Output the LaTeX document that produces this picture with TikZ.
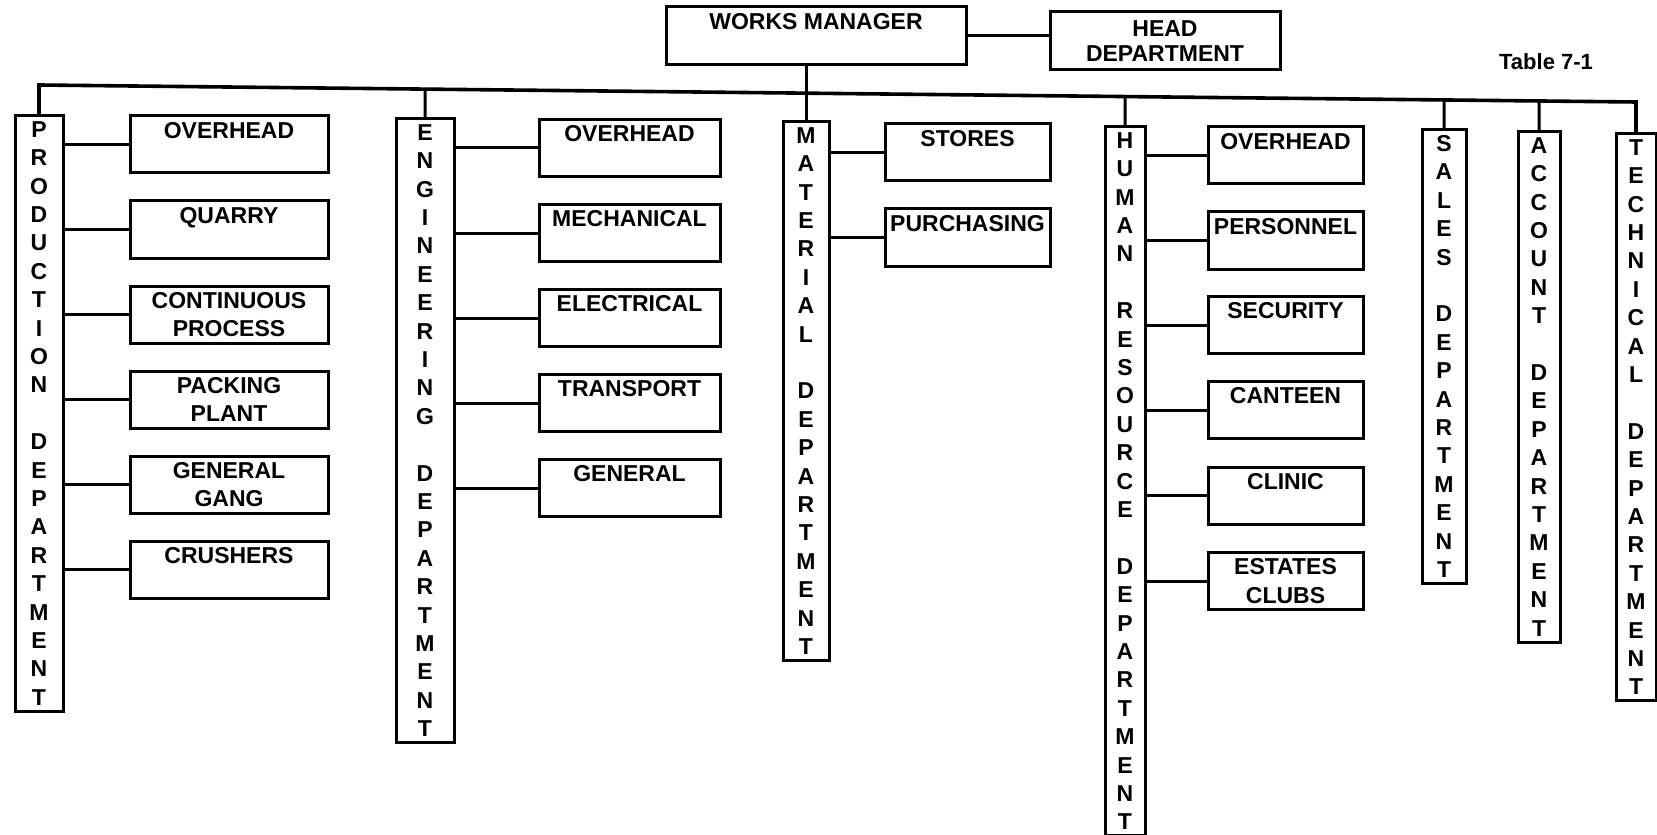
\documentclass[tikz,border=0pt]{standalone}
\usepackage{fontspec}
\setmainfont{Liberation Sans}
\usetikzlibrary{positioning,calc}

\begin{document}
\begin{tikzpicture}[
  x=0.5pt, y=-0.5pt,
  every node/.style={font=\fontsize{11.5}{14.2}\selectfont\bfseries},
  box/.style={draw, line width=1.5pt, align=center, inner xsep=1pt, inner ysep=3pt, minimum height=28.5pt},
  dept/.style={box, anchor=north, minimum height=0pt, minimum width=22pt},
  prodsub/.style={box, minimum width=99pt},
  engsub/.style={box, minimum width=90.5pt},
  matsub/.style={box, minimum width=82.5pt},
  hrsub/.style={box, minimum width=77.5pt},
  link/.style={line width=1.5pt},
  bus/.style={line width=1.8pt}
]
\useasboundingbox (0,0) rectangle (1657,834);

% top of the chart
\node[box, minimum width=150pt, minimum height=29pt] (wm) at (816,36) {WORKS MANAGER\\\mbox{}};
\node[box, minimum width=115pt, minimum height=29pt, font=\fontsize{11.5}{12.5}\selectfont\bfseries] (head) at (1165,41) {HEAD\\DEPARTMENT};
\node[font=\fontsize{11}{13}\selectfont\bfseries] (tab) at (1546,62) {Table 7-1};
\draw[link] (wm.east) -- (wm.east -| head.west);

% departments
\node[dept, minimum width=24pt] (prod) at (39,114) {P\\R\\O\\D\\U\\C\\T\\I\\O\\N\\\mbox{}\\D\\E\\P\\A\\R\\T\\M\\E\\N\\T};
\node[dept, minimum width=29pt] (eng) at (425,117) {E\\N\\G\\I\\N\\E\\E\\R\\I\\N\\G\\\mbox{}\\D\\E\\P\\A\\R\\T\\M\\E\\N\\T};
\node[dept, minimum width=23pt] (mat) at (806,120) {M\\A\\T\\E\\R\\I\\A\\L\\\mbox{}\\D\\E\\P\\A\\R\\T\\M\\E\\N\\T};
\node[dept, minimum width=20pt] (hr) at (1125,125) {H\\U\\M\\A\\N\\\mbox{}\\R\\E\\S\\O\\U\\R\\C\\E\\\mbox{}\\D\\E\\P\\A\\R\\T\\M\\E\\N\\T};
\node[dept] (sales) at (1444,128) {S\\A\\L\\E\\S\\\mbox{}\\D\\E\\P\\A\\R\\T\\M\\E\\N\\T};
\node[dept, minimum width=21pt] (acc) at (1539,130) {A\\C\\C\\O\\U\\N\\T\\\mbox{}\\D\\E\\P\\A\\R\\T\\M\\E\\N\\T};
\node[dept, minimum width=20pt] (tech) at (1636,132) {T\\E\\C\\H\\N\\I\\C\\A\\L\\\mbox{}\\D\\E\\P\\A\\R\\T\\M\\E\\N\\T};

% main line, a little slanted
\coordinate (lvla) at (0,85);
\coordinate (lvlb) at (0,102);
\coordinate (busl) at (prod.north |- lvla);
\coordinate (busr) at (tech.north |- lvlb);
\draw[bus] (prod.north) -- (busl) -- (busr) -- (tech.north);
\draw[link] (eng.north) -- ($(busl)!(eng.north)!(busr)$);
\draw[link] (mat.north) -- (mat.north |- wm.south);
\draw[link] (hr.north) -- ($(busl)!(hr.north)!(busr)$);
\draw[link] (sales.north) -- ($(busl)!(sales.north)!(busr)$);
\draw[link] (acc.north) -- ($(busl)!(acc.north)!(busr)$);

% production
\node[prodsub] (p1) at (229,144.5) {OVERHEAD\\\mbox{}};
\node[prodsub] (p2) at (229,229.5) {QUARRY\\\mbox{}};
\node[prodsub] (p3) at (229,314.5) {CONTINUOUS\\PROCESS};
\node[prodsub] (p4) at (229,399.5) {PACKING\\PLANT};
\node[prodsub] (p5) at (229,484.5) {GENERAL\\GANG};
\node[prodsub] (p6) at (229,569.5) {CRUSHERS\\\mbox{}};
\draw[link] (p1.west) -- (p1.west -| prod.east);
\draw[link] (p2.west) -- (p2.west -| prod.east);
\draw[link] (p3.west) -- (p3.west -| prod.east);
\draw[link] (p4.west) -- (p4.west -| prod.east);
\draw[link] (p5.west) -- (p5.west -| prod.east);
\draw[link] (p6.west) -- (p6.west -| prod.east);

% engineering
\node[engsub] (e1) at (629.5,148) {OVERHEAD\\\mbox{}};
\node[engsub] (e2) at (629.5,233) {MECHANICAL\\\mbox{}};
\node[engsub] (e3) at (629.5,318) {ELECTRICAL\\\mbox{}};
\node[engsub] (e4) at (629.5,403) {TRANSPORT\\\mbox{}};
\node[engsub] (e5) at (629.5,488) {GENERAL\\\mbox{}};
\draw[link] (e1.west) -- (e1.west -| eng.east);
\draw[link] (e2.west) -- (e2.west -| eng.east);
\draw[link] (e3.west) -- (e3.west -| eng.east);
\draw[link] (e4.west) -- (e4.west -| eng.east);
\draw[link] (e5.west) -- (e5.west -| eng.east);

% material
\node[matsub] (m1) at (967.5,152.5) {STORES\\\mbox{}};
\node[matsub] (m2) at (967.5,237.5) {PURCHASING\\\mbox{}};
\draw[link] (m1.west) -- (m1.west -| mat.east);
\draw[link] (m2.west) -- (m2.west -| mat.east);

% human resource
\node[hrsub] (h1) at (1285.5,155.5) {OVERHEAD\\\mbox{}};
\node[hrsub] (h2) at (1285.5,240.5) {PERSONNEL\\\mbox{}};
\node[hrsub] (h3) at (1285.5,325) {SECURITY\\\mbox{}};
\node[hrsub] (h4) at (1285.5,410) {CANTEEN\\\mbox{}};
\node[hrsub] (h5) at (1285.5,495.5) {CLINIC\\\mbox{}};
\node[hrsub] (h6) at (1285.5,581) {ESTATES\\CLUBS};
\draw[link] (h1.west) -- (h1.west -| hr.east);
\draw[link] (h2.west) -- (h2.west -| hr.east);
\draw[link] (h3.west) -- (h3.west -| hr.east);
\draw[link] (h4.west) -- (h4.west -| hr.east);
\draw[link] (h5.west) -- (h5.west -| hr.east);
\draw[link] (h6.west) -- (h6.west -| hr.east);
\end{tikzpicture}
\end{document}
